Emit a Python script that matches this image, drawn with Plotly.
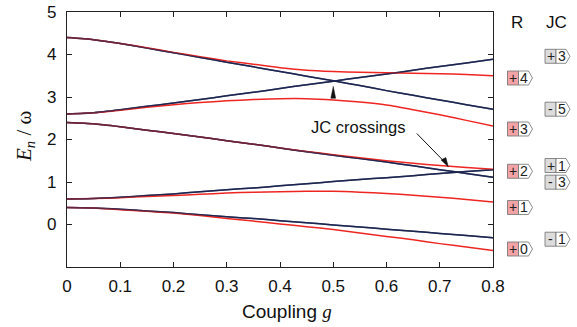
import plotly.graph_objects as go

# ---------------- data ----------------
g = [0.0, 0.05, 0.1, 0.15, 0.2, 0.25, 0.3, 0.35, 0.4, 0.45, 0.5,
     0.55, 0.6, 0.65, 0.7, 0.75, 0.8]

# Jaynes-Cummings levels (dark navy)
jc_1 = [0.40, 0.39, 0.36, 0.32, 0.28, 0.23, 0.18, 0.14, 0.09, 0.04, -0.01,
        -0.06, -0.11, -0.16, -0.21, -0.26, -0.31]
jc_2 = [0.60, 0.61, 0.64, 0.68, 0.72, 0.77, 0.82, 0.86, 0.91, 0.96, 1.01,
        1.06, 1.10, 1.15, 1.20, 1.25, 1.29]
jc_3 = [2.40, 2.37, 2.30, 2.22, 2.14, 2.06, 1.97, 1.89, 1.80, 1.71, 1.63,
        1.55, 1.47, 1.38, 1.29, 1.20, 1.11]
jc_4 = [2.60, 2.63, 2.70, 2.78, 2.86, 2.94, 3.03, 3.11, 3.20, 3.29, 3.37,
        3.46, 3.54, 3.63, 3.72, 3.80, 3.89]
jc_5 = [4.40, 4.35, 4.26, 4.15, 4.04, 3.93, 3.82, 3.71, 3.60, 3.49, 3.38,
        3.27, 3.15, 3.04, 2.93, 2.82, 2.71]

# Rabi levels (red)
r_1 = [0.40, 0.39, 0.35, 0.31, 0.27, 0.21, 0.14, 0.08, 0.01, -0.05, -0.12,
       -0.20, -0.28, -0.36, -0.45, -0.53, -0.61]
r_2 = [0.60, 0.61, 0.63, 0.66, 0.68, 0.71, 0.74, 0.76, 0.77, 0.78, 0.78,
       0.76, 0.73, 0.69, 0.64, 0.59, 0.53]
r_3 = [2.40, 2.37, 2.30, 2.22, 2.14, 2.06, 1.97, 1.89, 1.80, 1.72, 1.64,
       1.57, 1.50, 1.44, 1.39, 1.34, 1.30]
r_4 = [2.60, 2.63, 2.69, 2.76, 2.82, 2.87, 2.91, 2.94, 2.96, 2.96, 2.93,
       2.88, 2.81, 2.70, 2.58, 2.45, 2.32]
r_5 = [4.40, 4.35, 4.26, 4.16, 4.05, 3.95, 3.85, 3.77, 3.69, 3.63, 3.60,
       3.58, 3.57, 3.56, 3.55, 3.53, 3.50]

jc_curves = [jc_1, jc_2, jc_3, jc_4, jc_5]
rabi_curves = [r_1, r_2, r_3, r_4, r_5]

x_ticks = [0, 0.1, 0.2, 0.3, 0.4, 0.5, 0.6, 0.7, 0.8]
x_tick_labels = ["0", "0.1", "0.2", "0.3", "0.4", "0.5", "0.6", "0.7", "0.8"]
y_ticks = [0, 1, 2, 3, 4, 5]
y_tick_labels = ["0", "1", "2", "3", "4", "5"]

# state badges: (sign, number, vertical pixel centre)
r_badges = [("+", "4", 78), ("+", "3", 129), ("+", "2", 171.3),
            ("+", "1", 207.5), ("+", "0", 249)]
jc_badges = [("+", "3", 56.3), ("-", "5", 109.2), ("+", "1", 165.5),
             ("-", "3", 182.2), ("-", "1", 239.2)]

# crossing pointers (data coordinates)
text_pos = (0.547, 2.30)
arrow_tail = (0.657, 2.14)
arrow_tip = (0.716, 1.36)
up_tip = (0.5, 3.25)

# ---------------- styling ----------------
NAVY = "#1c2550"
RED = "#ee2622"
INK = "#111111"
SANS = "Liberation Sans, Arial, sans-serif"
SERIF = "Liberation Serif, Times New Roman, serif"

W, H = 577, 327
L, R, T, B = 67, 84, 12, 60
PW, PH = W - L - R, H - T - B


def px(xp):
    return (xp - L) / PW


def py(yp):
    return (H - B - yp) / PH


fig = go.Figure()
line_kw = dict(shape="spline", smoothing=0.6)
for c in jc_curves:
    fig.add_trace(go.Scatter(x=g, y=c, mode="lines", hoverinfo="skip",
                             line=dict(color=NAVY, width=1.5, **line_kw)))
for c in rabi_curves:
    fig.add_trace(go.Scatter(x=g, y=c, mode="lines", hoverinfo="skip",
                             line=dict(color=RED, width=1.5, **line_kw)))
for c in jc_curves:
    fig.add_trace(go.Scatter(x=g, y=c, mode="lines", hoverinfo="skip",
                             opacity=0.65,
                             line=dict(color=NAVY, width=1.5, **line_kw)))

shapes = []
annotations = []

# badges
BOX_W, BOX_H, BODY_W, TIP = 11, 14, 10, 4


def badge(x_left, yc, sign, num, fill):
    x0, x1 = x_left, x_left + BOX_W
    y0, y1 = yc - BOX_H / 2, yc + BOX_H / 2
    shapes.append(dict(type="rect", xref="paper", yref="paper",
                       x0=px(x0), x1=px(x1), y0=py(y1), y1=py(y0),
                       fillcolor=fill, line=dict(color="#6e6e6e", width=0.8)))
    pts = [(x1, y0), (x1 + BODY_W, y0), (x1 + BODY_W + TIP, yc),
           (x1 + BODY_W, y1), (x1, y1)]
    path = "M " + " L ".join(f"{px(a):.5f},{py(b):.5f}" for a, b in pts) + " Z"
    shapes.append(dict(type="path", xref="paper", yref="paper", path=path,
                       fillcolor="white", line=dict(color="#6e6e6e", width=0.8)))
    annotations.append(dict(xref="paper", yref="paper", x=px((x0 + x1) / 2),
                            y=py(yc), text=sign, showarrow=False,
                            font=dict(family=SANS, size=14, color="#222"),
                            xanchor="center", yanchor="middle"))
    annotations.append(dict(xref="paper", yref="paper",
                            x=px(x1 + BODY_W / 2 + 0.5), y=py(yc), text=num,
                            showarrow=False,
                            font=dict(family=SANS, size=14, color="#222"),
                            xanchor="center", yanchor="middle"))


for s, n, yc in r_badges:
    badge(507.5, yc, s, n, "#f2a3a6")
for s, n, yc in jc_badges:
    badge(545, yc, s, n, "#dcdcdc")

# column headers
for label, xc in (("R", 517), ("JC", 556)):
    annotations.append(dict(xref="paper", yref="paper", x=px(xc), y=py(23),
                            text=label, showarrow=False,
                            font=dict(family=SANS, size=17, color=INK),
                            xanchor="center", yanchor="middle"))

# JC crossings label + pointers
annotations.append(dict(x=text_pos[0], y=text_pos[1], xref="x", yref="y",
                        text="JC crossings", showarrow=False,
                        font=dict(family=SANS, size=16.5, color=INK),
                        xanchor="center", yanchor="middle"))
shapes.append(dict(type="line", xref="x", yref="y",
                   x0=arrow_tail[0], y0=arrow_tail[1],
                   x1=arrow_tip[0] - 0.006, y1=arrow_tip[1] + 0.1,
                   line=dict(color=INK, width=1)))
tx, ty = arrow_tip
shapes.append(dict(type="path", xref="x", yref="y",
                   path=(f"M {tx},{ty} L {tx - 0.0135},{ty + 0.16} "
                         f"L {tx - 0.0045},{ty + 0.215} Z"),
                   fillcolor=INK, line=dict(color=INK, width=0.5)))
ux, uy = up_tip
shapes.append(dict(type="path", xref="x", yref="y",
                   path=f"M {ux},{uy} L {ux - 0.0045},{uy - 0.28} L {ux + 0.0045},{uy - 0.28} Z",
                   fillcolor=INK, line=dict(color=INK, width=0.5)))

# axis titles
annotations.append(dict(xref="paper", yref="paper", x=px(287), y=py(311),
                        text="Coupling <span style=\"font-family:'Liberation Serif'\"><i>g</i></span>",
                        showarrow=False,
                        font=dict(family=SANS, size=19, color=INK),
                        xanchor="center", yanchor="middle"))
annotations.append(dict(xref="paper", yref="paper", x=px(25), y=py(137),
                        text="<i>E<sub>n</sub></i> / ω", textangle=-90,
                        showarrow=False,
                        font=dict(family=SERIF, size=21, color=INK),
                        xanchor="center", yanchor="middle"))

axis_common = dict(showline=True, linecolor="#222", linewidth=1.3,
                   mirror="ticks", ticks="inside", ticklen=5, tickwidth=1.2,
                   tickcolor="#222", showgrid=False, zeroline=False,
                   automargin=False,
                   tickfont=dict(family=SANS, size=17, color=INK))

fig.update_layout(
    width=W, height=H,
    margin=dict(l=L, r=R, t=T, b=B, autoexpand=False),
    paper_bgcolor="white", plot_bgcolor="white",
    showlegend=False,
    xaxis=dict(range=[0, 0.8], tickvals=x_ticks, ticktext=x_tick_labels,
               ticklabelstandoff=3, **axis_common),
    yaxis=dict(range=[-1, 5], tickvals=y_ticks, ticktext=y_tick_labels,
               ticklabelstandoff=6, **axis_common),
    shapes=shapes,
    annotations=annotations,
)

fig.write_html("out.html", config={"displayModeBar": False},
               post_script="document.body.style.margin='0';")
